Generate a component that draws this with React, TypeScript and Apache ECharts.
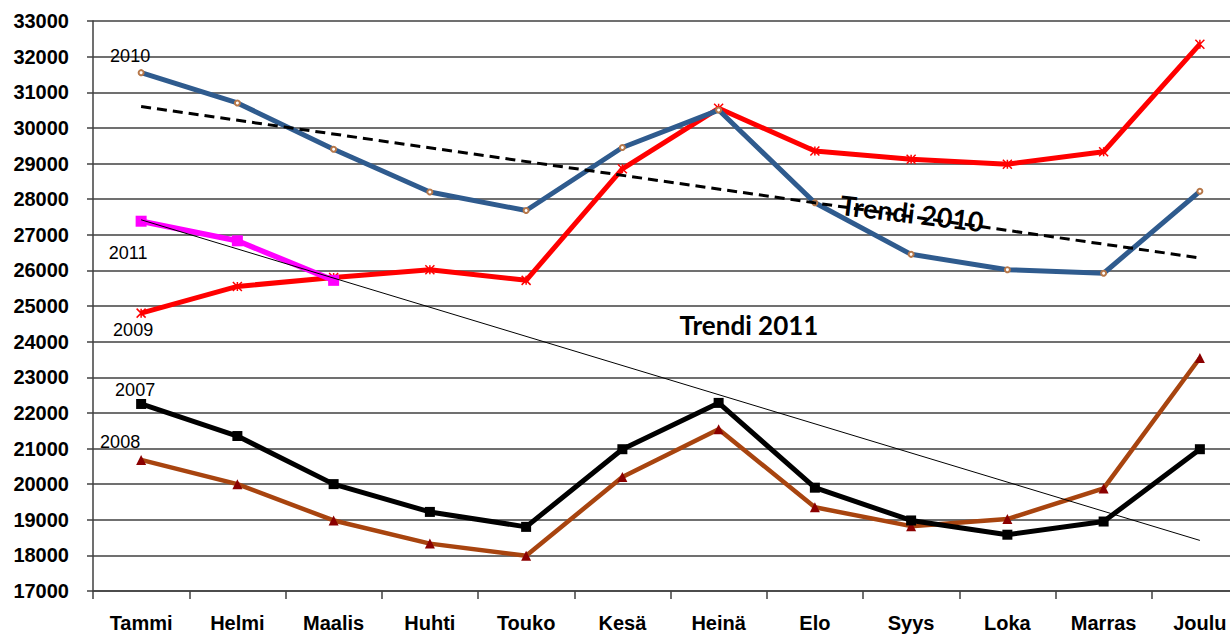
import React, { useEffect, useRef } from "react";
import * as echarts from "echarts";

const months = ["Tammi", "Helmi", "Maalis", "Huhti", "Touko", "Kesä", "Heinä", "Elo", "Syys", "Loka", "Marras", "Joulu"];
const y2007 = [22250, 21350, 20000, 19220, 18800, 20980, 22280, 19900, 18980, 18580, 18950, 20980];
const y2008 = [20680, 20000, 18980, 18330, 17990, 20200, 21540, 19350, 18820, 19020, 19880, 23540];
const y2009 = [24800, 25550, 25800, 26020, 25720, 28850, 30550, 29350, 29120, 28980, 29330, 32350];
const y2010 = [31550, 30700, 29400, 28200, 27680, 29450, 30500, 27900, 26450, 26020, 25920, 28220];
const y2011 = [27380, 26830, 25720];
const trend2010 = [30600, null, null, null, null, null, null, null, null, null, null, 26350];
const trend2011 = [27420, null, null, null, null, null, null, null, null, null, null, 18420];
const yTicks = { min: 17000, max: 33000, step: 1000 };

const FONT = "'Liberation Sans', Arial, sans-serif";

function withFirstLabel(values: (number | null)[], text: string, offset: number[]) {
  return values.map((v, i) =>
    i === 0
      ? {
          value: v,
          label: {
            show: true,
            formatter: text,
            position: "inside",
            offset,
            color: "#000",
            fontSize: 18,
            fontFamily: FONT,
          },
        }
      : v
  );
}

export default function App() {
  const ref = useRef<HTMLDivElement>(null);
  useEffect(() => {
    document.body.style.margin = "0";
    const chart = echarts.init(ref.current!, null, { renderer: "svg" });
    const cross = "path://M0,0L10,10M10,0L0,10M5,0L5,10";
    chart.setOption({
      animation: false,
      backgroundColor: "#fff",
      grid: { left: 93, width: 1155, top: 21, bottom: 45, outerBoundsMode: "none", containLabel: false },
      xAxis: {
        type: "category",
        data: months,
        boundaryGap: true,
        axisLine: { show: true, lineStyle: { color: "#404040", width: 1.5 } },
        axisTick: { show: true, length: 8, lineStyle: { color: "#404040", width: 1.5 } },
        axisLabel: {
          interval: 0,
          margin: 22,
          color: "#000",
          fontWeight: "bold",
          fontSize: 20,
          fontFamily: FONT,
        },
      },
      yAxis: {
        type: "value",
        min: yTicks.min,
        max: yTicks.max,
        interval: yTicks.step,
        axisLine: { show: true, lineStyle: { color: "#404040", width: 1.5 } },
        axisTick: { show: true, length: 6, lineStyle: { color: "#404040", width: 1.5 } },
        splitLine: { show: true, lineStyle: { color: "#404040", width: 1.5 } },
        axisLabel: {
          margin: 24,
          color: "#000",
          fontWeight: "bold",
          fontSize: 20,
          fontFamily: FONT,
          formatter: (v: number) => String(v),
        },
      },
      series: [
        {
          name: "2008",
          type: "line",
          data: withFirstLabel(y2008, "2008", [-21, -18]),
          lineStyle: { color: "#A8440F", width: 4.5 },
          itemStyle: { color: "#8B0000" },
          symbol: "triangle",
          symbolSize: 10,
          z: 2,
        },
        {
          name: "2007",
          type: "line",
          data: withFirstLabel(y2007, "2007", [-6, -14]),
          lineStyle: { color: "#000", width: 5 },
          itemStyle: { color: "#000" },
          symbol: "rect",
          symbolSize: 10,
          z: 3,
        },
        {
          name: "2009",
          type: "line",
          data: withFirstLabel(y2009, "2009", [-8, 17]),
          lineStyle: { color: "#FF0000", width: 5 },
          itemStyle: { color: "none", borderColor: "#FF0000", borderWidth: 1.5 },
          symbol: cross,
          symbolSize: 9,
          z: 3,
        },
        {
          name: "2010",
          type: "line",
          data: withFirstLabel(y2010, "2010", [-11, -17]),
          lineStyle: { color: "#2F5B8E", width: 5 },
          itemStyle: { color: "#B7784A", borderColor: "#B7784A", borderWidth: 1 },
          symbol: "emptyCircle",
          symbolSize: 5,
          z: 4,
        },
        {
          name: "2011",
          type: "line",
          data: withFirstLabel(y2011, "2011", [-13, 32]),
          lineStyle: { color: "#FF00FF", width: 5.5 },
          itemStyle: { color: "#FF00FF" },
          symbol: "rect",
          symbolSize: 11,
          z: 5,
        },
        {
          name: "Trendi 2010",
          type: "line",
          data: trend2010,
          connectNulls: true,
          showSymbol: false,
          symbol: "none",
          lineStyle: { color: "#000", width: 3, type: [10, 6] },
          z: 6,
        },
        {
          name: "Trendi 2011",
          type: "line",
          data: trend2011,
          connectNulls: true,
          showSymbol: false,
          symbol: "none",
          lineStyle: { color: "#000", width: 1 },
          z: 7,
        },
      ],
      graphic: [
        {
          type: "text",
          x: 749,
          y: 325,
          style: {
            text: "Trendi 2011",
            fill: "#000",
            font: "bold 26px Lato, sans-serif",
            align: "center",
            verticalAlign: "middle",
          },
          z: 10,
        },
        {
          type: "text",
          x: 912,
          y: 213,
          rotation: -0.12,
          style: {
            text: "Trendi 2010",
            fill: "#000",
            font: "bold 27px Lato, sans-serif",
            align: "center",
            verticalAlign: "middle",
          },
          z: 10,
        },
      ],
    });
    return () => chart.dispose();
  }, []);
  return <div ref={ref} style={{ width: 1230, height: 636, position: "absolute", left: 0, top: 0 }} />;
}
